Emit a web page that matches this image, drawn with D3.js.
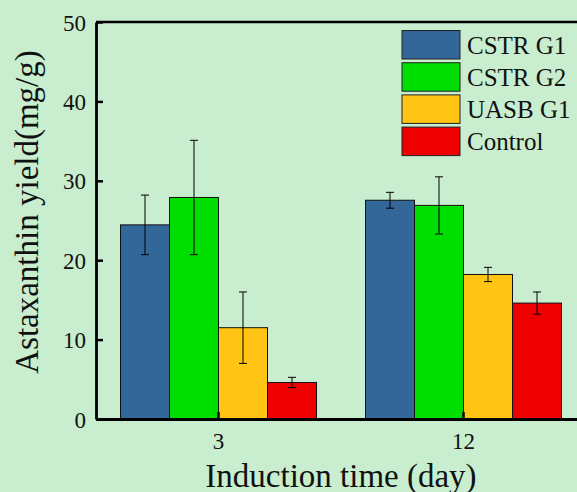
<!DOCTYPE html>
<html>
<head>
<meta charset="utf-8">
<script src="https://cdn.jsdelivr.net/npm/d3@7"></script>
<style>
  body { margin: 0; background: #c8edcf; }
  svg { display: block; }
  text { font-family: "Liberation Serif", "Times New Roman", serif; }
</style>
</head>
<body>
<div id="main"></div>
<script>
var days = ["3", "12"];
var series = ["CSTR G1", "CSTR G2", "UASB G1", "Control"];
var colors = ["#336699", "#00dd00", "#ffc414", "#ee0000"];
var yieldValues = [
  [24.45, 27.55],
  [27.9, 26.9],
  [11.5, 18.2],
  [4.6, 14.6]
];
var yieldErrors = [
  [3.75, 1.0],
  [7.2, 3.6],
  [4.5, 0.9],
  [0.65, 1.4]
];
var yTicks = [0, 10, 20, 30, 40, 50];

var margin = { top: 22, right: 0, bottom: 73, left: 96 },
  W = 577, H = 492,
  height = H - margin.top - margin.bottom,
  width = 490;

var serif = '"Liberation Serif", "Times New Roman", serif';

var svg = d3.select('#main')
  .append("svg")
  .attr('width', W)
  .attr('height', H);

svg.append("rect").attr("width", W).attr("height", H).attr("fill", "#c8edcf");

var g = svg.append("g")
  .attr("transform", "translate(" + margin.left + "," + margin.top + ")");

var x0 = d3.scaleBand().domain(days).range([0, width])
  .paddingInner(0.2).paddingOuter(0.1);
var x1 = d3.scaleBand().domain(series).range([0, x0.bandwidth()]);
var y = d3.scaleLinear().domain([0, 50]).range([height, 0]);

// flatten for bars
var rows = [];
series.forEach(function (s, i) {
  days.forEach(function (d, j) {
    rows.push({ series: s, day: d, value: yieldValues[i][j], err: yieldErrors[i][j], color: colors[i] });
  });
});

g.selectAll('.bar').data(rows).enter()
  .append('rect')
  .attr('class', 'bar')
  .attr('x', d => x0(d.day) + x1(d.series))
  .attr('y', d => y(d.value))
  .attr('width', x1.bandwidth())
  .attr('height', d => height - y(d.value))
  .attr('fill', d => d.color)
  .attr('stroke', '#111')
  .attr('stroke-width', 1);

// error bars
var eb = g.selectAll('.err').data(rows).enter().append('g').attr('class', 'err')
  .attr('stroke', '#000').attr('stroke-width', 1);
var cx = d => x0(d.day) + x1(d.series) + x1.bandwidth() / 2;
eb.append('line')
  .attr('x1', cx).attr('x2', cx)
  .attr('y1', d => y(d.value + d.err)).attr('y2', d => y(d.value - d.err));
eb.append('line')
  .attr('x1', d => cx(d) - 4).attr('x2', d => cx(d) + 4)
  .attr('y1', d => y(d.value + d.err)).attr('y2', d => y(d.value + d.err));
eb.append('line')
  .attr('x1', d => cx(d) - 4).attr('x2', d => cx(d) + 4)
  .attr('y1', d => y(d.value - d.err)).attr('y2', d => y(d.value - d.err));

// axes
var yAxis = g.append("g")
  .call(d3.axisLeft(y).tickValues(yTicks).tickSizeInner(-7).tickSizeOuter(0).tickPadding(10))
  .attr('font-family', serif);
yAxis.select('.domain').attr('stroke-width', 2.8);
yAxis.selectAll('.tick line').attr('stroke-width', 2.5);
yAxis.selectAll('text').style('font-size', '23px').style('font-family', serif)
  .attr('fill', '#111').attr('dy', '0.35em');

var xAxis = g.append("g")
  .attr("transform", "translate(0," + height + ")")
  .call(d3.axisBottom(x0).tickSizeInner(-7).tickSizeOuter(0).tickPadding(14))
  .attr('font-family', serif);
xAxis.select('.domain').attr('stroke-width', 2.8);
xAxis.selectAll('.tick line').attr('stroke-width', 2.5);
xAxis.selectAll('text').style('font-size', '23px').style('font-family', serif).attr('fill', '#111');

// top frame
g.append('line')
  .attr('x1', 0).attr('x2', width)
  .attr('y1', 0).attr('y2', 0)
  .attr('stroke', '#000').attr('stroke-width', 2.5);
g.append('line')
  .attr('x1', width).attr('x2', width)
  .attr('y1', 0).attr('y2', height)
  .attr('stroke', '#000').attr('stroke-width', 2.5);

// titles
svg.append("text")
  .attr("transform", "translate(38,212) rotate(-90)")
  .style("text-anchor", "middle")
  .style("font-size", "33px")
  .style('font-family', serif)
  .attr('fill', '#111')
  .text("Astaxanthin yield(mg/g)");

svg.append("text")
  .attr("x", 341)
  .attr("y", 487)
  .style("text-anchor", "middle")
  .style("font-size", "33px")
  .style('font-family', serif)
  .attr('fill', '#111')
  .text("Induction time (day)");

// legend
var legend = svg.selectAll('.legend')
  .data(series)
  .enter()
  .append("g")
  .attr("class", "legend")
  .attr("transform", (d, i) => "translate(402," + (30.5 + i * 32.2) + ")");

legend.append("rect")
  .attr("width", 58)
  .attr("height", 28.5)
  .attr("fill", (d, i) => colors[i])
  .attr("stroke", "#222")
  .attr("stroke-width", 1);

legend.append("text")
  .attr("x", 65)
  .attr("y", 23)
  .style('font-size', "25px")
  .style('font-family', serif)
  .attr('fill', '#111')
  .text(d => d);
</script>
</body>
</html>
